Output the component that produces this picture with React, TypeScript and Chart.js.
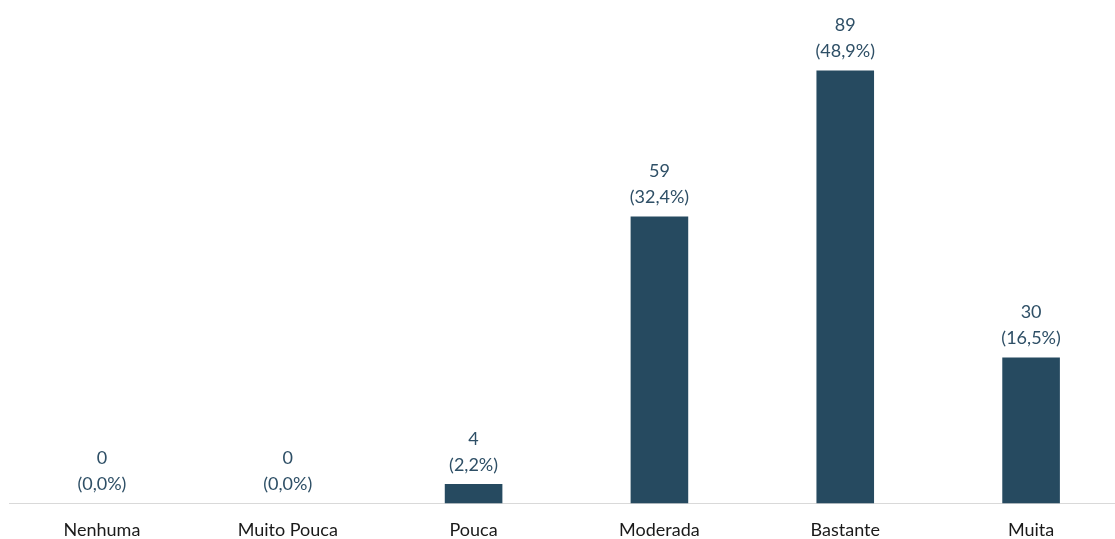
import React, { useEffect, useRef } from "react";
import { Chart, registerables } from "chart.js";

Chart.register(...registerables);

const categories = ["Nenhuma", "Muito Pouca", "Pouca", "Moderada", "Bastante", "Muita"];
const counts = [0, 0, 4, 59, 89, 30];
const percents = ["0,0%", "0,0%", "2,2%", "32,4%", "48,9%", "16,5%"];

const BAR_COLOR = "#264A60";
const LABEL_COLOR = "#2E4F66";
const FONT = "Lato, 'Noto Sans', sans-serif";

const labelPlugin = {
  id: "twoLineLabels",
  afterDatasetsDraw(chart: any) {
    const ctx = chart.ctx;
    const meta = chart.getDatasetMeta(0);
    ctx.save();
    ctx.fillStyle = LABEL_COLOR;
    ctx.font = `18px ${FONT}`;
    ctx.textAlign = "center";
    ctx.textBaseline = "middle";
    meta.data.forEach((bar: any, i: number) => {
      const x = bar.x;
      const y = bar.y;
      ctx.fillText(`(${percents[i]})`, x, y - 19);
      ctx.fillText(String(counts[i]), x, y - 45);
    });
    ctx.restore();
  },
};

export default function App() {
  const ref = useRef<HTMLCanvasElement>(null);
  useEffect(() => {
    if (!ref.current) return;
    const chart = new Chart(ref.current, {
      type: "bar",
      data: {
        labels: categories,
        datasets: [
          {
            data: counts,
            backgroundColor: BAR_COLOR,
            barPercentage: 0.31,
            categoryPercentage: 1,
          },
        ],
      },
      options: {
        animation: false,
        responsive: false,
        maintainAspectRatio: false,
        layout: { padding: { top: 17, left: 9, right: 0, bottom: 0 } },
        plugins: { legend: { display: false }, tooltip: { enabled: false } },
        scales: {
          x: {
            grid: { display: false },
            border: { display: true, color: "#D9D9D9", width: 1 },
            ticks: { color: "#1a1a1a", font: { family: FONT, size: 18 }, padding: 8 },
          },
          y: { display: false, min: 0, max: 100 },
        },
      },
      plugins: [labelPlugin],
    });
    return () => chart.destroy();
  }, []);
  return (
    <div style={{ position: "fixed", left: 0, top: 0, width: 1115, height: 539, overflow: "hidden", background: "#fff" }}>
      <canvas ref={ref} width={1124} height={549} style={{ display: "block" }} />
    </div>
  );
}
